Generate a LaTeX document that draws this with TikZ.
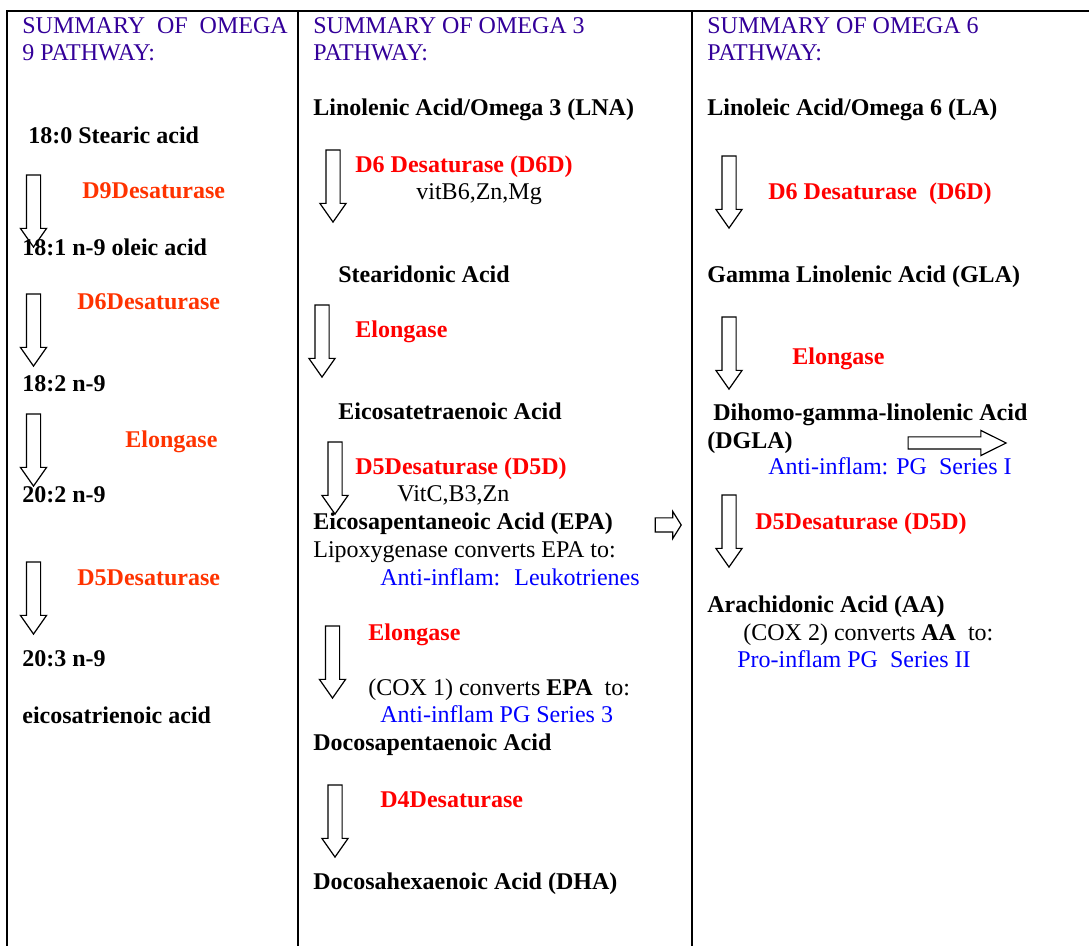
\documentclass[tikz,border=0pt]{standalone}
\usepackage{fontspec}
\setmainfont{Liberation Serif}
\usetikzlibrary{shapes.arrows}
\definecolor{headblue}{RGB}{51,0,153}
\definecolor{enzred}{RGB}{255,0,0}
\definecolor{enzorange}{RGB}{255,51,0}
\definecolor{inflblue}{RGB}{0,0,255}
\tikzset{
  txt/.style={anchor=base west, inner sep=0pt, font=\fontsize{12}{14}\selectfont},
  acid/.style={txt, font=\fontsize{12}{14}\selectfont\bfseries},
  head/.style={txt, text=headblue},
  enz/.style={acid, text=enzred},
  enzo/.style={acid, text=enzorange},
  infl/.style={txt, text=inflblue},
  blockdown/.style={single arrow, draw, line width=0.6pt, rotate=-90, inner sep=0pt, inner ysep=3.25pt,
    minimum height=36pt, minimum width=12.5pt, single arrow head extend=3pt, single arrow tip angle=70},
  blockright/.style={single arrow, draw, line width=0.6pt, inner sep=0pt}
}
\begin{document}
\begin{tikzpicture}[x=0.5pt, y=-0.5pt]
\useasboundingbox (0,0) rectangle (1089,946);
\draw[line width=1pt] (1089,11) -- (7,11) -- (7,946);
\draw[line width=1pt] (298,11) -- (298,946);
\draw[line width=1pt] (692,11) -- (692,946);
%omega 9
\node[head] (h9a) at (22,34) {SUMMARY~ OF~ OMEGA};
\node[head] (h9b) at (22,61) {9 PATHWAY:};
\node[acid] (stearic) at (28,144) {18:0 Stearic acid};
\node[enzo] (d9) at (82,199) {D9Desaturase};
\node[acid] (oleic) at (22,256) {18:1 n-9 oleic acid};
\node[enzo] (d6a) at (77,310) {D6Desaturase};
\node[acid] (e182) at (22,392) {18:2 n-9};
\node[enzo] (elo1) at (125,448) {Elongase};
\node[acid] (e202) at (22,503) {20:2 n-9};
\node[enzo] (d5a) at (77,586) {D5Desaturase};
\node[acid] (e203) at (22,667) {20:3 n-9};
\node[acid] (eicosa) at (22,724) {eicosatrienoic acid};
\node[blockdown] (a91) at (33.5,206) {};
\node[blockdown] (a92) at (33.5,325) {};
\node[blockdown] (a93) at (33.5,445) {};
\node[blockdown] (a94) at (33.5,593) {};
%omega 3
\node[head] (h3a) at (313,34) {SUMMARY OF OMEGA 3};
\node[head] (h3b) at (313,61) {PATHWAY:};
\node[acid] (lna) at (313,116) {Linolenic Acid/Omega 3 (LNA)};
\node[enz] (d6b) at (355,173) {D6 Desaturase (D6D)};
\node[txt] (vitb) at (416,200) {vitB6,Zn,Mg};
\node[acid] (sda) at (338,283) {Stearidonic Acid};
\node[enz] (elo2) at (355,338) {Elongase};
\node[acid] (eta) at (338,420) {Eicosatetraenoic Acid};
\node[enz] (d5b) at (355,475) {D5Desaturase (D5D)};
\node[txt] (vitc) at (397,502) {VitC,B3,Zn};
\node[acid] (epa) at (313,530) {Eicosapentaneoic Acid (EPA)};
\node[txt] (lipox) at (313,558) {Lipoxygenase converts EPA to:};
\node[infl] (leuko) at (380,586) {Anti-inflam:~ Leukotrienes};
\node[enz] (elo3) at (368,641) {Elongase};
\node[txt] (cox1) at (368,696) {(COX 1) converts \textbf{EPA}~ to:};
\node[infl] (pg3) at (380,723) {Anti-inflam PG Series 3};
\node[acid] (dpa) at (313,751) {Docosapentaenoic Acid};
\node[enz] (d4) at (380,808) {D4Desaturase};
\node[acid] (dha) at (313,890) {Docosahexaenoic Acid (DHA)};
\node[blockdown] (a31) at (333,181) {};
\node[blockdown] (a32) at (322,336) {};
\node[blockdown] (a33) at (335,473) {};
\node[blockdown] (a34) at (332.5,657) {};
\node[blockdown] (a35) at (335,816) {};
\node[blockright, minimum height=13pt, minimum width=13pt, inner ysep=3.25pt, single arrow head extend=3.25pt, single arrow tip angle=116] (a36) at (666,525) {};
%omega 6
\node[head] (h6a) at (707,34) {SUMMARY OF OMEGA 6};
\node[head] (h6b) at (707,61) {PATHWAY:};
\node[acid] (la) at (707,116) {Linoleic Acid/Omega 6 (LA)};
\node[enz] (d6c) at (768,200) {D6 Desaturase~ (D6D)};
\node[acid] (gla) at (707,283) {Gamma Linolenic Acid (GLA)};
\node[enz] (elo4) at (792,365) {Elongase};
\node[acid] (dgla) at (713,421) {Dihomo-gamma-linolenic Acid};
\node[acid] (dglb) at (707,449) {(DGLA)};
\node[infl] (pg1) at (768,475) {Anti-inflam: PG~ Series I};
\node[enz] (d5c) at (755,530) {D5Desaturase (D5D)};
\node[acid] (aa) at (707,613) {Arachidonic Acid (AA)};
\node[txt] (cox2) at (743,641) {(COX 2) converts \textbf{AA}~ to:};
\node[infl] (pg2) at (737,668) {Pro-inflam PG~ Series II};
\node[blockdown] (a61) at (729,187) {};
\node[blockdown] (a62) at (729,348) {};
\node[blockdown] (a63) at (729,526) {};
\node[blockright, minimum height=49pt, minimum width=12pt, inner ysep=2.75pt, single arrow head extend=3.25pt, single arrow tip angle=53] (a64) at (951,443) {};
\end{tikzpicture}
\end{document}
